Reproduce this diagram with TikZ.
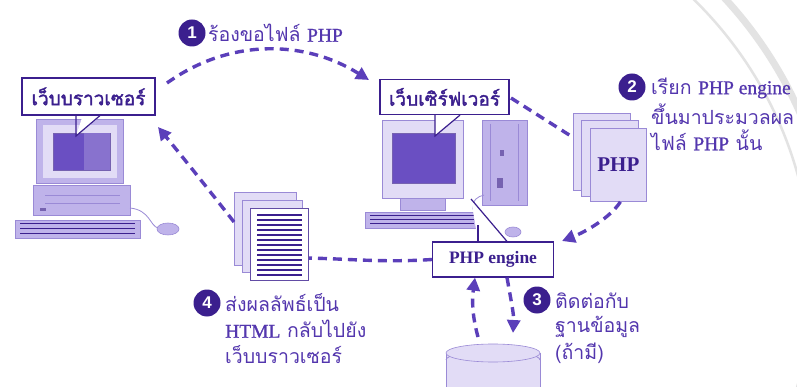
\documentclass[tikz,border=0pt]{standalone}
\usepackage{fontspec}
\setmainfont{Liberation Serif}
\newfontfamily\thai[Script=Thai]{Loma}
\newfontfamily\thaibold[Script=Thai,FakeBold=2]{Loma}
\newfontfamily\latinmed[FakeBold=1]{Liberation Serif}
\newfontfamily\digits{Liberation Sans}
\usetikzlibrary{arrows.meta}

\definecolor{ink}{HTML}{3B1F8E}
\definecolor{flowc}{HTML}{5B3FBA}
\definecolor{capc}{HTML}{5336AE}
\definecolor{lite}{HTML}{BFB3EA}
\definecolor{pale}{HTML}{E2DCF6}
\definecolor{scr}{HTML}{6A4FC2}
\definecolor{edge}{HTML}{9A8AD6}
\definecolor{seal}{HTML}{E3E3E3}

\newcommand{\lat}[1]{{\latinmed #1}}

\tikzset{
  flow/.style={draw=flowc, line width=3.4pt, dash pattern=on 9pt off 6pt},
  flowarrow/.style={flow, -{Triangle[length=13pt,width=13pt]}},
  badge/.style={circle, fill=ink, text=white, minimum size=27pt, inner sep=0pt,
    font=\digits\bfseries\fontsize{17}{17}\selectfont},
  caption/.style={text=capc, anchor=west, align=left, inner sep=0pt,
    font=\thai\fontsize{19.5}{25}\selectfont},
  labelbox/.style={draw=ink, line width=1.2pt, fill=white, text=ink, inner sep=0pt,
    font=\thaibold\fontsize{19}{20}\selectfont},
  tail/.style={draw=ink, line width=1.2pt},
  page/.style={draw=edge, line width=0.8pt, fill=pale, inner sep=0pt, anchor=north west},
  body/.style={fill=lite, draw=edge, line width=0.6pt},
  screen/.style={fill=scr, draw=ink!70, line width=0.5pt},
  keys/.style={draw=ink, line width=1pt},
}

\begin{document}
\begin{tikzpicture}[x=1pt,y=-1pt]
\useasboundingbox (0,0) rectangle (797,387);
\fill[white] (0,0) rectangle (797,387);

% faint seal rings along the right edge of the background
\begin{scope}
\clip (560,0) rectangle (797,387);
\draw[seal, line width=7pt] (420,280) circle (415);
\draw[seal, line width=2.5pt] (420,280) circle (392);
\end{scope}

% ---------------- client computer ----------------
\draw[body] (36,119) rectangle (123,183);
\fill[pale] (43,125) rectangle (117,178);
\draw[screen] (53,133) rectangle (110,170);
\fill[scr!80!white] (84,133) rectangle (110,170);
\draw[body] (33,185) rectangle (130,215);
\draw[edge, line width=0.8pt] (45,195) -- (120,195) (45,203) -- (120,203);
\fill[ink!70] (40,208) rectangle (46,211);
\draw[body] (15,220) rectangle (140,238);
\foreach \y in {224,229,234}
  \draw[keys] (20,\y) -- (135,\y);
\draw[edge, line width=0.8pt] (130,208) .. controls (150,210) and (150,226) .. (158,228);
\draw[body] (168,229) ellipse (11 and 6);

% ---------------- server computer ----------------
\draw[body, fill=pale] (382,120) rectangle (463,198);
\draw[screen] (392,133) rectangle (455,183);
\draw[body] (400,198) rectangle (445,210);
\draw[body] (365,212) rectangle (478,228);
\foreach \y in {216,220,224}
  \draw[keys] (370,\y) -- (474,\y);
\draw[body] (482,120) rectangle (527,205);
\draw[edge, line width=0.8pt] (490,124) -- (490,201) (518,124) -- (518,201);
\fill[ink!70] (500,150) rectangle (504,156);
\fill[ink!70] (497,178) rectangle (503,188);
\draw[edge, line width=0.8pt] (484,195) .. controls (470,198) and (470,212) .. (478,214);
\draw[body] (513,232) ellipse (8 and 5);

% ---------------- labels ----------------
\node[labelbox, minimum width=133pt, minimum height=37pt] (browser) at (88.5,96.5)
  {เว็บบราวเซอร์};
\coordinate (browsertip) at (76,136);
\fill[white] ([xshift=-6pt,yshift=-0.6pt]browser.south) -- (browsertip)
  -- ([xshift=12pt,yshift=-0.6pt]browser.south) -- cycle;
\draw[tail] ([xshift=-12.5pt]browser.south) -- (browsertip)
  -- ([xshift=11.5pt]browser.south);

\node[labelbox, minimum width=129pt, minimum height=35pt] (server) at (444.5,97)
  {เว็บเซิร์ฟเวอร์};
\coordinate (servertip) at (435,136);
\fill[white] ([xshift=-9.5pt,yshift=-0.6pt]server.south) -- (servertip)
  -- ([xshift=15.5pt,yshift=-0.6pt]server.south) -- cycle;
\draw[tail] ([xshift=-9.5pt]server.south) -- (servertip)
  -- ([xshift=15.5pt]server.south);

% ---------------- step 1 ----------------
\coordinate (req1) at (167,83);
\coordinate (req2) at (369,80);
\draw[flowarrow] (req1) .. controls (230,38) and (305,40) .. (req2);
\node[badge] (b1) at (192,33) {1};
\node[caption] (c1) at (208,33) {ร้องขอไฟล์ \lat{PHP}};

% ---------------- step 2 ----------------
\coordinate (srv) at (511,98);
\coordinate (phpin) at (585,145);
\draw[flow] (srv) -- (phpin);
\node[page, minimum width=57pt, minimum height=77pt] (php1) at (573,113) {};
\node[page, minimum width=57pt, minimum height=76pt] (php2) at (581,120) {};
\node[page, minimum width=56pt, minimum height=73pt] (php3) at (590,128) {};
\node[text=ink, font=\bfseries\fontsize{21}{21}\selectfont] (phplabel) at (php3.center) {PHP};
\node[badge] (b2) at (632,87) {2};
\node[caption] (c2) at (651,88) {เรียก \lat{PHP engine}};
\node[caption] (c2b) at (651,114) {ขึ้นมาประมวลผล};
\node[caption] (c2c) at (651,140) {ไฟล์ \lat{PHP} นั้น};

% ---------------- PHP engine ----------------
\node[draw=ink, line width=1.2pt, fill=white, text=ink, minimum width=121pt,
  minimum height=35pt, inner sep=0pt, font=\bfseries\fontsize{17.5}{17.5}\selectfont]
  (engine) at (493,259.5) {PHP engine};
\coordinate (enginetip) at (471,199);
\fill[white] ([xshift=-15pt,yshift=0.6pt]engine.north) -- (enginetip)
  -- ([xshift=14pt,yshift=0.6pt]engine.north) -- cycle;
\draw[tail] ([xshift=-15pt]engine.north) -- (478,225);
\draw[tail] (enginetip) -- ([xshift=14pt]engine.north);

\draw[flowarrow] ([xshift=2pt]php3.south) .. controls (610,218) and (585,232) .. (562,241);

% ---------------- step 3: database ----------------
\coordinate (dbtop) at (493,353);
\draw[body, fill=pale] (446,353) -- (446,395) -- (540,395) -- (540,353);
\draw[edge, line width=0.8pt] (446,360) arc[start angle=180, end angle=360, x radius=47, y radius=9];
\draw[body, fill=pale] (dbtop) ellipse (47 and 9);
\draw[flowarrow] (478,337) .. controls (472,315) and (472,300) .. ([xshift=-18pt]engine.south);
\draw[flowarrow] ([xshift=14pt]engine.south) .. controls (511,300) and (514,315) .. (513,333);
\node[badge] (b3) at (537,300) {3};
\node[caption] (c3) at (555,301) {ติดต่อกับ};
\node[caption] (c3b) at (555,327) {ฐานข้อมูล};
\node[caption] (c3c) at (555,353) {(ถ้ามี)};

% ---------------- step 4: HTML result ----------------
\draw[flow] (engine.west) .. controls (380,263) and (340,258) .. (300,258);
\node[page, minimum width=62pt, minimum height=73pt] (html1) at (234,192) {};
\node[page, minimum width=60pt, minimum height=72pt] (html2) at (242,200) {};
\node[page, fill=white, draw=ink!80, minimum width=58pt, minimum height=72pt] (html3) at (250,208) {};
\foreach \y in {215,220,...,275}
  \draw[ink, line width=2pt] ([xshift=7pt]html3.west |- 0,\y) -- ([xshift=-7pt]html3.east |- 0,\y);
\coordinate (back) at (158,127);
\draw[flowarrow] (html1.west |- 0,222) .. controls (205,185) and (185,160) .. (back);
\node[badge] (b4) at (207,303) {4};
\node[caption] (c4) at (225,303) {ส่งผลลัพธ์เป็น};
\node[caption] (c4b) at (225,329) {\lat{HTML} กลับไปยัง};
\node[caption] (c4c) at (225,355) {เว็บบราวเซอร์};
\end{tikzpicture}
\end{document}
